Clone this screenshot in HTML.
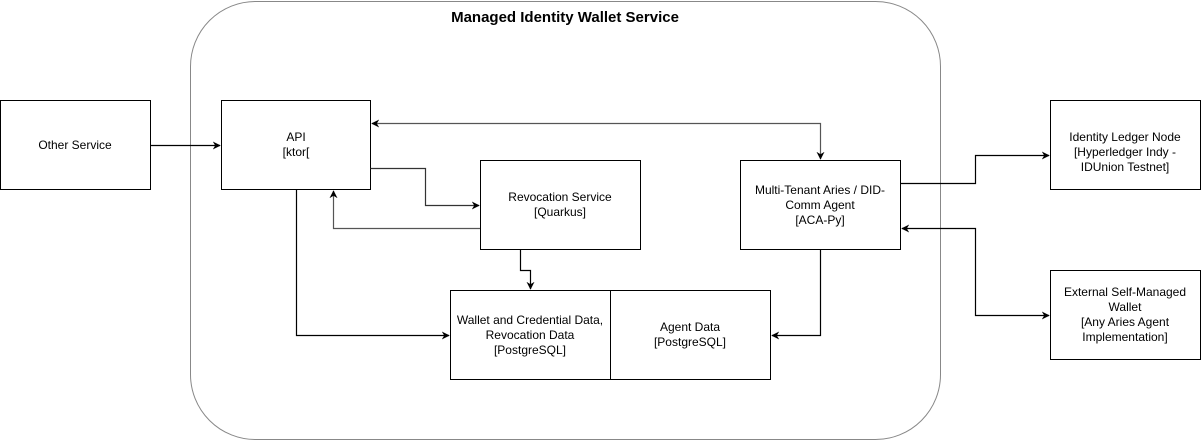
<!DOCTYPE html>
<html><head><style>
body{margin:0;background:#fff}
svg{display:block}
text{font-family:"Liberation Sans",Helvetica,sans-serif;font-size:12px;fill:#000}
</style></head><body>
<svg width="1201" height="441" viewBox="0 0 1201 441" xmlns="http://www.w3.org/2000/svg">
<defs>
<marker id="a" viewBox="0 0 10 10" refX="9" refY="5" markerWidth="8" markerHeight="8" orient="auto-start-reverse" markerUnits="userSpaceOnUse"><path d="M0,0 L10,5 L0,10 L3,5 z" fill="#000"/></marker>
</defs>
<rect x="190.5" y="1.5" width="750" height="438" rx="65" fill="#fff" stroke="#888" stroke-width="1"/>
<text x="565" y="22" text-anchor="middle" style="font-weight:bold;font-size:15px">Managed Identity Wallet Service</text>
<g fill="#fff" stroke="#000" stroke-width="1">
<rect x="0.5" y="100.5" width="150" height="89"/>
<rect x="221.5" y="100.5" width="149" height="89"/>
<rect x="480.5" y="160.5" width="160" height="89"/>
<rect x="740.5" y="160.5" width="160" height="89"/>
<rect x="450.5" y="290.5" width="160" height="89"/>
<rect x="610.5" y="290.5" width="160" height="89"/>
<rect x="1050.5" y="100.5" width="150" height="89"/>
<rect x="1050.5" y="270.5" width="150" height="89"/>
</g>
<g fill="none" stroke-width="1.2">
<path d="M150.5,145.5 H220" stroke="#000" marker-end="url(#a)"/>
<path d="M372,123.5 H820.5 V159" stroke="#555" marker-start="url(#a)" marker-end="url(#a)"/>
<path d="M370.5,168.5 H425.5 V205.5 H479" stroke="#333" marker-end="url(#a)"/>
<path d="M480,228.5 H333.5 V191" stroke="#555" marker-end="url(#a)"/>
<path d="M520.5,250 V270.5 H530.5 V289" stroke="#000" marker-end="url(#a)"/>
<path d="M296.5,190 V335.5 H449" stroke="#000" marker-end="url(#a)"/>
<path d="M820.5,250 V335.5 H772" stroke="#000" marker-end="url(#a)"/>
<path d="M900.5,183.5 H975.5 V155.5 H1049" stroke="#000" marker-end="url(#a)"/>
<path d="M902,228.5 H975.5 V315.5 H1049" stroke="#000" marker-start="url(#a)" marker-end="url(#a)"/>
</g>
<text x="75" y="149" text-anchor="middle">Other Service</text>
<text x="296" y="141" text-anchor="middle">API</text>
<text x="296" y="156" text-anchor="middle">[ktor[</text>
<text x="560" y="201" text-anchor="middle">Revocation Service</text>
<text x="560" y="216" text-anchor="middle">[Quarkus]</text>
<text x="820" y="194" text-anchor="middle">Multi-Tenant Aries / DID-</text>
<text x="820" y="209" text-anchor="middle">Comm Agent</text>
<text x="820" y="224" text-anchor="middle">[ACA-Py]</text>
<text x="530" y="324" text-anchor="middle">Wallet and Credential Data,</text>
<text x="530" y="339" text-anchor="middle">Revocation Data</text>
<text x="530" y="354" text-anchor="middle">[PostgreSQL]</text>
<text x="690" y="331" text-anchor="middle">Agent Data</text>
<text x="690" y="346" text-anchor="middle">[PostgreSQL]</text>
<text x="1125" y="141" text-anchor="middle">Identity Ledger Node</text>
<text x="1125" y="156" text-anchor="middle">[Hyperledger Indy -</text>
<text x="1125" y="171" text-anchor="middle">IDUnion Testnet]</text>
<text x="1125" y="296" text-anchor="middle">External Self-Managed</text>
<text x="1125" y="311" text-anchor="middle">Wallet</text>
<text x="1125" y="326" text-anchor="middle">[Any Aries Agent</text>
<text x="1125" y="341" text-anchor="middle">Implementation]</text>
</svg>
</body></html>
